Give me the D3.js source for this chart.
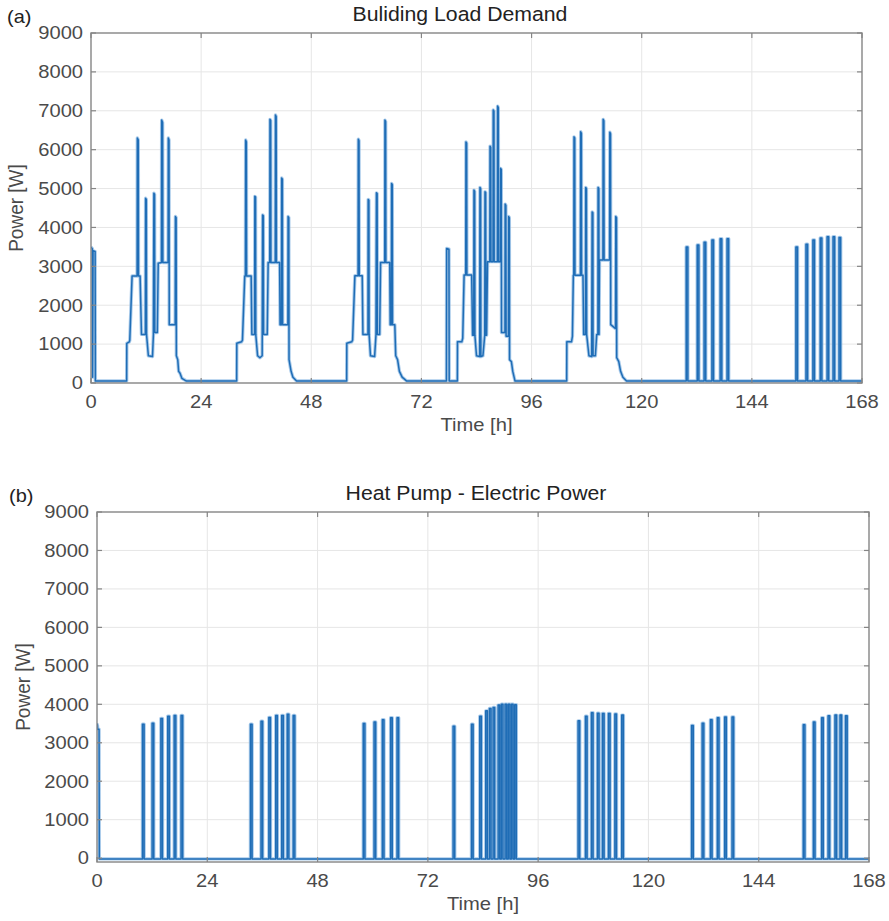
<!DOCTYPE html>
<html>
<head>
<meta charset="utf-8">
<script src="https://cdn.jsdelivr.net/npm/d3@7"></script>
<style>
  html, body { margin: 0; padding: 0; background: #fff; }
  svg { display: block; }
</style>
</head>
<body>
<svg id="chart" width="889" height="921"></svg>
<script>
// x axis ticks (hours) and y axis ticks (watts)
const xTicks = [0, 24, 48, 72, 96, 120, 144, 168];
const yTicks = [0, 1000, 2000, 3000, 4000, 5000, 6000, 7000, 8000, 9000];

// (a) building load demand, breakpoints [hour, W]
const loadStart = [[0, 3500], [0.3, 3450], [0.35, 150], [0.45, 3400], [0.9, 3380], [0.95, 50]];
const loadDay1 = [
  [7.77, 50], [7.8, 1020], [8.35, 1060], [8.45, 1100], [8.95, 2750], [10.05, 2750], [10.1, 6300], [10.3, 6250],
  [10.35, 2750], [10.7, 2750], [11.0, 1250], [11.85, 1250], [11.9, 4750], [12.05, 4720], [12.1, 1250], [12.5, 700],
  [13.4, 680], [13.6, 1250], [13.7, 4880], [13.85, 4850], [13.9, 1300], [14.45, 1300], [14.65, 3080], [15.35, 3100],
  [15.4, 6760], [15.6, 6700], [15.65, 3100], [16.8, 3100], [16.85, 6300], [17.0, 6250], [17.05, 1500], [18.35, 1500],
  [18.4, 4280], [18.55, 4250], [18.6, 700], [18.9, 600], [19.1, 300], [19.4, 250], [19.8, 120], [20.8, 50]
];
const loadDay2 = [
  [31.74, 50], [31.77, 1020], [32.8, 1060], [33.0, 1100], [33.5, 2750], [33.65, 2750], [33.7, 6250], [33.85, 6200],
  [33.9, 2750], [34.9, 2750], [35.05, 1250], [35.65, 1250], [35.7, 4800], [35.85, 4780], [35.9, 1250], [36.3, 700],
  [36.8, 650], [37.3, 700], [37.4, 4320], [37.55, 4300], [37.6, 1250], [38.4, 1250], [38.6, 3100], [38.95, 3100],
  [39.0, 6780], [39.15, 6750], [39.2, 3100], [40.15, 3100], [40.2, 6890], [40.35, 6850], [40.4, 3100], [41.1, 3100],
  [41.2, 1500], [41.5, 1500], [41.55, 5270], [41.7, 5240], [41.75, 1500], [42.9, 1500], [42.95, 4280], [43.1, 4250],
  [43.15, 600], [43.6, 300], [44.0, 150], [44.8, 50]
];
const loadDay3 = [
  [55.71, 50], [55.74, 1020], [56.8, 1060], [57.0, 1100], [57.5, 2760], [58.2, 2760], [58.25, 6270], [58.4, 6230],
  [58.45, 2760], [59.1, 2760], [59.25, 1250], [60.35, 1250], [60.4, 4720], [60.55, 4700], [60.6, 1250], [60.9, 700],
  [61.8, 680], [62.1, 1250], [62.2, 4890], [62.35, 4870], [62.4, 1250], [62.9, 1250], [63.1, 3100], [64.0, 3100],
  [64.05, 6760], [64.2, 6720], [64.25, 3100], [65.1, 3100], [65.2, 1500], [65.45, 1500], [65.5, 5130], [65.65, 5100],
  [65.7, 1500], [66.2, 1500], [66.4, 700], [66.8, 600], [67.2, 300], [67.8, 150], [68.8, 50]
];
const loadDay4 = [
  [77.45, 50], [77.5, 3460], [78.0, 3440], [78.05, 50],
  [79.83, 50], [79.86, 1060], [80.8, 1060], [81.0, 1150], [81.3, 2780], [81.65, 2780], [81.7, 6200], [81.85, 6170],
  [81.9, 2780], [82.95, 2780], [83.15, 1230], [83.4, 1230], [83.45, 4960], [83.6, 4930], [83.65, 1230], [84.0, 700],
  [84.7, 680], [84.75, 5030], [84.9, 5000], [84.95, 680], [85.4, 700], [85.8, 1230], [85.85, 4920], [86.0, 4900],
  [86.05, 1230], [86.2, 1230], [86.4, 3120], [86.9, 3120], [86.95, 6090], [87.1, 6060], [87.15, 3120], [87.6, 3120],
  [87.65, 7020], [87.8, 6990], [87.85, 3120], [88.55, 3120], [88.6, 7120], [88.75, 7080], [88.8, 3120], [89.2, 3120],
  [89.25, 5520], [89.4, 5490], [89.45, 1300], [90.2, 1300], [90.25, 4600], [90.4, 4570], [90.45, 1200], [90.95, 1200],
  [91.0, 4280], [91.15, 4250], [91.2, 600], [91.6, 550], [91.9, 300], [92.4, 50]
];
const loadDay5 = [
  [103.65, 50], [103.68, 1060], [104.7, 1060], [104.9, 1200], [105.1, 2770], [105.2, 2770], [105.25, 6330], [105.4, 6300],
  [105.45, 2770], [106.65, 2770], [106.7, 6460], [106.85, 6420], [106.9, 2770], [107.2, 2770], [107.35, 1250], [107.75, 1250],
  [107.8, 5030], [107.95, 5000], [108.0, 1250], [108.5, 700], [109.1, 680], [109.2, 4400], [109.35, 4380], [109.4, 700],
  [109.9, 700], [110.2, 1250], [110.45, 1250], [110.5, 5030], [110.65, 5000], [110.7, 1250], [110.8, 3160], [111.55, 3160],
  [111.6, 6780], [111.75, 6740], [111.8, 3160], [113.0, 3160], [113.05, 6450], [113.2, 6410], [113.25, 1500], [114.3, 1400],
  [114.35, 4280], [114.5, 4250], [114.55, 650], [115.0, 550], [115.4, 300], [115.9, 150], [116.7, 50]
];
// weekend: short pulses [start hour, W]
const loadDay6Pulses = [[129.7, 3500], [132.1, 3550], [133.6, 3620], [135.3, 3680], [137.1, 3710], [138.6, 3710]];
const loadDay7Pulses = [[153.6, 3500], [155.8, 3570], [157.3, 3680], [158.9, 3730], [160.4, 3760], [161.7, 3760], [163.0, 3740]];
const loadBase = 50;

// (b) heat pump electric power, pulses [start hour, W]
const hpStart = [[0, 3500], [0.1, 3450], [0.15, 3350], [0.45, 3350], [0.5, -20]];
const hpDay1 = [[9.9, 3480], [12.0, 3510], [13.9, 3630], [15.4, 3690], [16.8, 3710], [18.3, 3710]];
const hpDay2 = [[33.4, 3480], [35.7, 3560], [37.4, 3660], [38.9, 3710], [40.2, 3710], [41.4, 3740], [42.7, 3710]];
const hpDay3 = [[57.95, 3500], [60.3, 3540], [62.1, 3600], [63.9, 3650], [65.3, 3650]];
const hpDay4 = [[77.5, 3430], [81.5, 3480], [83.3, 3690], [84.6, 3830], [85.4, 3890], [86.2, 3920], [87.3, 3980],
  [88.0, 4000], [88.8, 4000], [89.5, 4000], [90.2, 4000], [90.9, 3990]];
const hpDay5 = [[104.7, 3570], [106.3, 3690], [107.6, 3780], [108.9, 3770], [110.0, 3760], [111.3, 3760], [112.7, 3750], [114.2, 3720]];
const hpDay6 = [[129.4, 3450], [131.7, 3510], [133.5, 3600], [135.0, 3650], [136.6, 3670], [138.2, 3670]];
const hpDay7 = [[153.7, 3470], [155.9, 3540], [157.7, 3650], [159.1, 3700], [160.6, 3720], [161.7, 3720], [162.9, 3700]];
const hpBase = -20;
const pulseWidth = 0.35;

function pulsesToPoints(pulses, base) {
    const pts = [];
    pulses.forEach(([s, w]) => {
        pts.push([s, base], [s, w], [s + pulseWidth, w], [s + pulseWidth, base]);
    });
    return pts;
}

const loadSeries = [].concat(loadStart, loadDay1, loadDay2, loadDay3, loadDay4, loadDay5,
    pulsesToPoints(loadDay6Pulses, loadBase), pulsesToPoints(loadDay7Pulses, loadBase), [[168, loadBase]]);
const hpSeries = [].concat(hpStart,
    pulsesToPoints([].concat(hpDay1, hpDay2, hpDay3, hpDay4, hpDay5, hpDay6, hpDay7), hpBase), [[168, hpBase]]);

const svg = d3.select('#chart');
const FONT = "'Liberation Sans', Arial, Helvetica, sans-serif";

function addText(g, x, y, str, size, anchor, sx, color, rotate) {
    g.append('text')
        .attr('transform', `translate(${x},${y}) scale(${sx},1)` + (rotate ? ' rotate(-90)' : ''))
        .attr('text-anchor', anchor)
        .attr('font-family', FONT)
        .attr('font-size', size)
        .attr('fill', color)
        .text(str);
}

function drawPanel(p) {
    const g = svg.append('g');
    const x = d3.scaleLinear().domain([0, 168]).range([p.left, p.right]);
    const y = d3.scaleLinear().domain(p.yDomain).range([p.bottom, p.top]);

    // grid
    g.append('g').selectAll('line.vx').data(xTicks.slice(1, -1)).enter().append('line')
        .attr('x1', d => x(d)).attr('x2', d => x(d))
        .attr('y1', p.top).attr('y2', p.bottom)
        .attr('stroke', '#e6e6e6').attr('stroke-width', 1);
    g.append('g').selectAll('line.hy').data(yTicks.slice(1, -1)).enter().append('line')
        .attr('x1', p.left).attr('x2', p.right)
        .attr('y1', d => y(d)).attr('y2', d => y(d))
        .attr('stroke', '#e6e6e6').attr('stroke-width', 1);

    // data line
    const clipId = 'clip-' + p.id;
    svg.append('clipPath').attr('id', clipId).append('rect')
        .attr('x', p.left).attr('y', p.top)
        .attr('width', p.right - p.left).attr('height', p.bottom - p.top);
    const line = d3.line().x(d => x(d[0])).y(d => y(d[1]));
    const lg = g.append('g').attr('clip-path', `url(#${clipId})`);
    lg.append('path').datum(p.series).attr('d', line)
        .attr('fill', 'none').attr('stroke', '#8db9e3').attr('stroke-width', 3.4)
        .attr('stroke-linejoin', 'round').attr('opacity', 0.75);
    lg.append('path').datum(p.series).attr('d', line)
        .attr('fill', 'none').attr('stroke', '#1f6db6').attr('stroke-width', 1.5)
        .attr('stroke-linejoin', 'round');

    // box and ticks
    g.append('rect').attr('x', p.left).attr('y', p.top)
        .attr('width', p.right - p.left).attr('height', p.bottom - p.top)
        .attr('fill', 'none').attr('stroke', '#858585').attr('stroke-width', 1.4);
    const tl = 5;
    xTicks.forEach(t => {
        g.append('line').attr('x1', x(t)).attr('x2', x(t)).attr('y1', p.bottom).attr('y2', p.bottom - tl)
            .attr('stroke', '#858585').attr('stroke-width', 1.2);
        g.append('line').attr('x1', x(t)).attr('x2', x(t)).attr('y1', p.top).attr('y2', p.top + tl)
            .attr('stroke', '#858585').attr('stroke-width', 1.2);
        addText(g, x(t), p.bottom + 25, String(t), 17.5, 'middle', 1.15, '#4a4a4a');
    });
    yTicks.forEach(v => {
        g.append('line').attr('x1', p.left).attr('x2', p.left + tl).attr('y1', y(v)).attr('y2', y(v))
            .attr('stroke', '#858585').attr('stroke-width', 1.2);
        g.append('line').attr('x1', p.right).attr('x2', p.right - tl).attr('y1', y(v)).attr('y2', y(v))
            .attr('stroke', '#858585').attr('stroke-width', 1.2);
        addText(g, p.left - 8, y(v) + 6.3, String(v), 17.5, 'end', 1.15, '#4a4a4a');
    });

    // labels
    addText(g, p.titleX, p.top - 12, p.title, 19.5, 'middle', 1.09, '#222');
    addText(g, p.tagX, p.top - 10, p.tag, 19, 'start', 1.05, '#222');
    addText(g, (p.left + p.right) / 2, p.bottom + 48, 'Time [h]', 18, 'middle', 1.12, '#4a4a4a');
    addText(g, p.ylabelX, (p.top + p.bottom) / 2, 'Power [W]', 19, 'middle', 1.1, '#4a4a4a', true);
}

drawPanel({
    id: 'a', left: 91, right: 862, top: 33, bottom: 383, yDomain: [0, 9000],
    series: loadSeries, title: 'Buliding Load Demand', titleX: 460,
    tag: '(a)', tagX: 7, ylabelX: 23
});
drawPanel({
    id: 'b', left: 97, right: 869, top: 512, bottom: 862, yDomain: [-100, 9000],
    series: hpSeries, title: 'Heat Pump - Electric Power', titleX: 476,
    tag: '(b)', tagX: 9, ylabelX: 30
});
</script>
</body>
</html>
